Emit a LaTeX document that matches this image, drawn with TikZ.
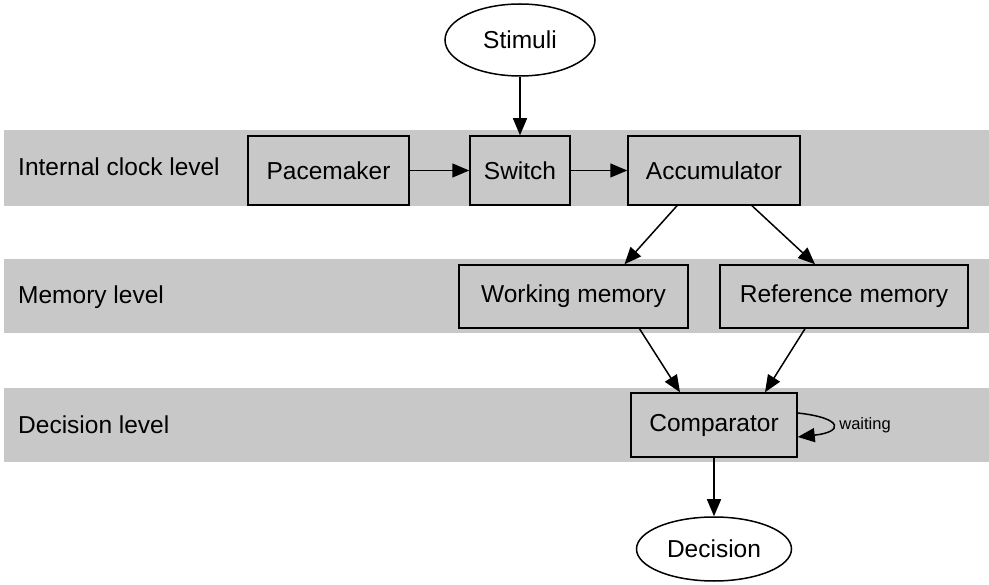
\documentclass[tikz,border=0pt]{standalone}
\usepackage{fontspec}
\setmainfont{Liberation Sans}
\usetikzlibrary{arrows.meta,shapes.geometric}
\definecolor{band}{gray}{0.784}
\tikzset{
  lane/.style={fill=band,draw=none},
  lanelabel/.style={anchor=west,inner sep=0pt,font=\fontsize{24.5}{29}\selectfont},
  block/.style={draw,line width=1.5pt,fill=band,inner sep=0pt,font=\fontsize{24.5}{29}\selectfont},
  oval/.style={draw,ellipse,line width=1.5pt,fill=white,inner sep=0pt,font=\fontsize{24.5}{29}\selectfont},
  flow/.style={line width=1.5pt,-{Triangle[length=17pt,width=14pt]}},
}
\begin{document}
\begin{tikzpicture}[x=1pt,y=-1pt]
\useasboundingbox (0,0) rectangle (989,585);
% level bands
\fill[lane] (4,130) rectangle (989,206);
\fill[lane] (4,259) rectangle (989,333);
\fill[lane] (4,388) rectangle (989,462);
\node[lanelabel] (l1) at (18,167) {Internal clock level};
\node[lanelabel] (l2) at (18,297) {Memory level};
\node[lanelabel] (l3) at (18,425) {Decision level};
% nodes
\node[oval,minimum width=150pt,minimum height=72pt] (stim) at (520,40) {Stimuli};
\node[block,minimum width=161pt,minimum height=69pt] (pace) at (328.5,170.5) {Pacemaker};
\node[block,minimum width=100pt,minimum height=69pt] (sw) at (520,170.5) {Switch};
\node[block,minimum width=172pt,minimum height=69pt] (acc) at (714,170.5) {Accumulator};
\node[block,minimum width=229pt,minimum height=63pt] (wm) at (573.5,296.5) {Working memory};
\node[block,minimum width=248pt,minimum height=63pt] (rm) at (844,296.5) {Reference memory};
\node[block,minimum width=166pt,minimum height=64pt] (cmp) at (714,425) {Comparator};
\node[oval,minimum width=155pt,minimum height=64pt] (dec) at (714,549) {Decision};
% connectors
\draw[flow] (stim) -- (sw);
\draw[flow] (pace) -- (sw);
\draw[flow] (sw) -- (acc);
\draw[flow] ([xshift=-37pt]acc.south) -- ([xshift=51pt]wm.north);
\draw[flow] ([xshift=38pt]acc.south) -- ([xshift=-29pt]rm.north);
\draw[flow] ([xshift=66pt]wm.south) -- ([xshift=-34pt]cmp.north);
\draw[flow] ([xshift=-39pt]rm.south) -- ([xshift=51pt]cmp.north);
\draw[flow] (cmp) -- (dec);
% self loop of the comparator
\draw[flow] ([yshift=12pt]cmp.east) .. controls +(46,5) and +(46,-5) .. ([yshift=-12pt]cmp.east)
  node[pos=0.5,right=3pt,font=\fontsize{16.5}{20}\selectfont] (wait) {waiting};
\end{tikzpicture}
\end{document}
